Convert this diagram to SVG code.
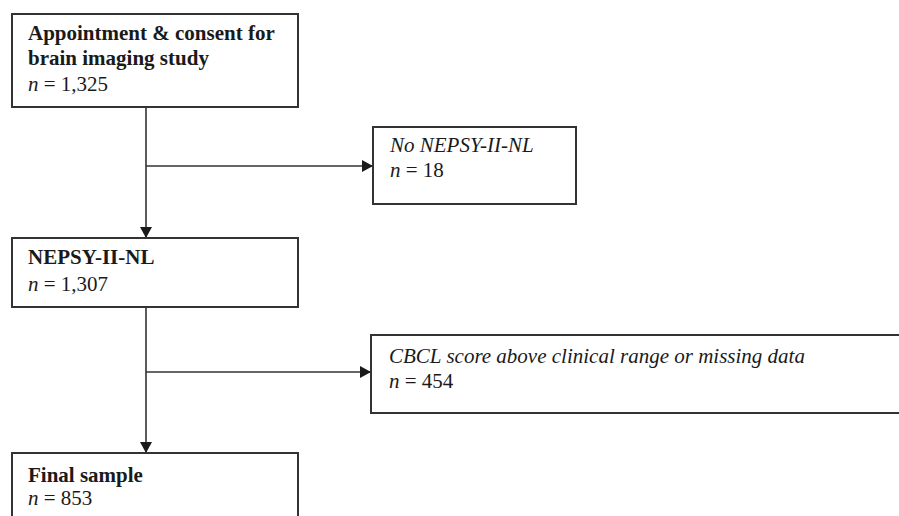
<svg xmlns="http://www.w3.org/2000/svg" width="899" height="516" viewBox="0 0 899 516">
  <defs>
    <style>
      .box { fill: #ffffff; stroke: #333333; stroke-width: 2; }
      .line { fill: none; stroke: #333333; stroke-width: 1.6; }
      .t { font-family: "Liberation Serif", "Times New Roman", serif; font-size: 21px; fill: #1a1a1a; }
      .b { font-weight: bold; }
      .i { font-style: italic; }
    </style>
    <marker id="arrow" markerUnits="userSpaceOnUse" markerWidth="12" markerHeight="12" refX="11" refY="6" orient="auto">
      <path d="M0,0 L11,6 L0,12 Z" fill="#1a1a1a"/>
    </marker>
  </defs>
  <rect width="899" height="516" fill="#ffffff"/>

  <g id="connectors">
    <line class="line" x1="146" y1="107" x2="146" y2="238" marker-end="url(#arrow)"/>
    <line class="line" x1="146" y1="166" x2="373" y2="166" marker-end="url(#arrow)"/>
    <line class="line" x1="146" y1="307" x2="146" y2="453" marker-end="url(#arrow)"/>
    <line class="line" x1="146" y1="372" x2="371" y2="372" marker-end="url(#arrow)"/>
  </g>

  <g id="node-appointment">
    <rect class="box" x="12" y="14" width="286" height="93"/>
    <text class="t b" x="28" y="40">Appointment &amp; consent for</text>
    <text class="t b" x="28" y="65">brain imaging study</text>
    <text class="t" x="28" y="91"><tspan class="i">n</tspan> = 1,325</text>
  </g>

  <g id="node-no-nepsy">
    <rect class="box" x="373" y="127" width="203" height="77"/>
    <text class="t i" x="390" y="152">No NEPSY-II-NL</text>
    <text class="t" x="390" y="177"><tspan class="i">n</tspan> = 18</text>
  </g>

  <g id="node-nepsy">
    <rect class="box" x="12" y="238" width="286" height="69"/>
    <text class="t b" x="28" y="264">NEPSY-II-NL</text>
    <text class="t" x="28" y="291"><tspan class="i">n</tspan> = 1,307</text>
  </g>

  <g id="node-cbcl">
    <rect class="box" x="371" y="335" width="540" height="78"/>
    <text class="t i" x="389" y="363">CBCL score above clinical range or missing data</text>
    <text class="t" x="389" y="388"><tspan class="i">n</tspan> = 454</text>
  </g>

  <g id="node-final">
    <rect class="box" x="12" y="453" width="286" height="80"/>
    <text class="t b" x="28" y="482">Final sample</text>
    <text class="t" x="28" y="505"><tspan class="i">n</tspan> = 853</text>
  </g>
</svg>
